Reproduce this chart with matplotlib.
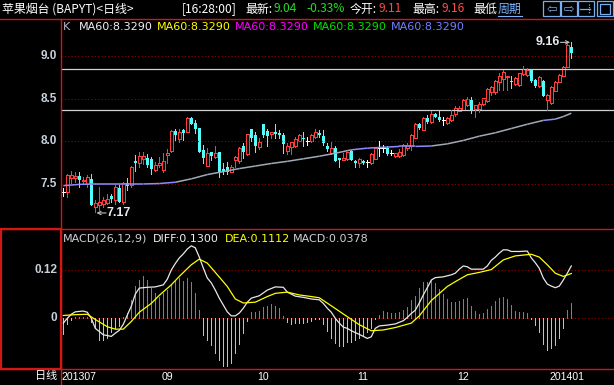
import matplotlib
matplotlib.use("Agg")
from matplotlib import pyplot as plt
from matplotlib.collections import LineCollection
from matplotlib.patches import Rectangle
from matplotlib.lines import Line2D

# ---- daily candles (open, high, low, close) ----
opens = [7.41, 7.40, 7.566, 7.566, 7.594, 7.53, 7.50, 7.559, 7.234, 7.254,
         7.27, 7.277, 7.359, 7.3125, 7.45, 7.293, 7.516, 7.488, 7.773, 7.742,
         7.79, 7.80, 7.79, 7.664, 7.72, 7.664, 7.84, 7.89, 8.121, 8.027,
         8.13, 8.113, 8.27, 8.215, 8.16, 7.90, 7.715, 7.87, 7.82, 7.87,
         7.68, 7.70, 7.645, 7.78, 7.766, 7.94, 7.85, 8.145, 8.074, 7.93,
         8.203, 8.125, 8.09, 8.11, 8.098, 8.07, 7.89, 7.93, 7.95, 8.00,
         8.04, 8.004, 8.00, 8.05, 8.10, 8.066, 7.95, 7.867, 7.926, 7.80,
         7.78, 7.79, 7.89, 7.77, 7.75, 7.77, 7.76, 7.74, 7.79, 7.926,
         7.926, 7.926, 7.86, 7.83, 7.83, 7.84, 7.926, 7.94, 8.043, 8.20,
         8.133, 8.27, 8.23, 8.316, 8.28, 8.25, 8.21, 8.25, 8.316, 8.355,
         8.37, 8.43, 8.49, 8.38, 8.38, 8.434, 8.473, 8.58, 8.582, 8.70,
         8.727, 8.75, 8.71, 8.67, 8.66, 8.79, 8.78, 8.844, 8.72, 8.65,
         8.707, 8.484, 8.445, 8.594, 8.70, 8.766, 8.875, 9.11]
highs = [7.45, 7.62, 7.652, 7.645, 7.637, 7.58, 7.605, 7.617, 7.313, 7.465,
         7.35, 7.38, 7.38, 7.488, 7.49, 7.527, 7.566, 7.71, 7.84, 7.871,
         7.88, 7.85, 7.82, 7.76, 7.82, 7.86, 7.91, 8.13, 8.15, 8.15,
         8.14, 8.29, 8.29, 8.25, 8.16, 7.96, 7.92, 7.88, 7.94, 7.88,
         7.74, 7.76, 7.72, 7.83, 7.93, 7.98, 8.09, 8.145, 8.11, 8.035,
         8.203, 8.15, 8.11, 8.20, 8.13, 8.10, 7.98, 7.99, 8.05, 8.08,
         8.11, 8.05, 8.08, 8.15, 8.13, 8.13, 7.98, 7.99, 7.945, 7.80,
         7.86, 7.875, 7.90, 7.78, 7.81, 7.78, 7.78, 7.867, 7.93, 8.008,
         7.96, 7.945, 7.90, 7.867, 7.91, 7.97, 7.98, 8.086, 8.21, 8.22,
         8.29, 8.31, 8.355, 8.336, 8.35, 8.29, 8.29, 8.37, 8.41, 8.41,
         8.496, 8.516, 8.52, 8.426, 8.465, 8.51, 8.62, 8.65, 8.72, 8.80,
         8.836, 8.77, 8.77, 8.75, 8.80, 8.88, 8.86, 8.85, 8.73, 8.76,
         8.72, 8.55, 8.65, 8.71, 8.79, 8.88, 9.14, 9.16]
lows = [7.36, 7.35, 7.508, 7.527, 7.469, 7.50, 7.469, 7.25, 7.17, 7.195,
        7.23, 7.26, 7.29, 7.27, 7.285, 7.27, 7.43, 7.47, 7.656, 7.703,
        7.73, 7.70, 7.62, 7.65, 7.70, 7.64, 7.75, 7.875, 8.016, 7.996,
        8.01, 8.105, 8.20, 8.094, 7.87, 7.74, 7.71, 7.78, 7.81, 7.58,
        7.62, 7.62, 7.64, 7.70, 7.75, 7.80, 7.84, 8.00, 7.875, 7.91,
        8.047, 7.945, 8.04, 8.04, 8.04, 7.86, 7.85, 7.85, 7.93, 8.00,
        7.94, 7.96, 7.99, 8.04, 8.05, 7.96, 7.89, 7.85, 7.765, 7.70,
        7.78, 7.78, 7.78, 7.70, 7.70, 7.73, 7.70, 7.73, 7.79, 7.832,
        7.88, 7.84, 7.84, 7.82, 7.82, 7.83, 7.90, 7.90, 8.04, 8.145,
        8.13, 8.21, 8.22, 8.28, 8.24, 8.19, 8.20, 8.24, 8.30, 8.35,
        8.367, 8.41, 8.336, 8.28, 8.34, 8.426, 8.465, 8.54, 8.56, 8.60,
        8.60, 8.60, 8.63, 8.66, 8.65, 8.78, 8.77, 8.70, 8.64, 8.64,
        8.53, 8.367, 8.44, 8.59, 8.69, 8.76, 8.87, 8.98]
closes = [7.41, 7.605, 7.605, 7.598, 7.547, 7.55, 7.578, 7.254, 7.273, 7.293,
          7.31, 7.32, 7.32, 7.469, 7.293, 7.508, 7.48, 7.703, 7.742, 7.828,
          7.83, 7.723, 7.672, 7.72, 7.75, 7.77, 7.86, 8.121, 8.074, 8.105,
          8.10, 8.27, 8.203, 8.14, 7.879, 7.80, 7.867, 7.83, 7.86, 7.645,
          7.645, 7.645, 7.70, 7.82, 7.926, 7.88, 8.086, 8.043, 7.945, 7.996,
          8.074, 8.066, 8.11, 8.08, 8.07, 7.97, 7.945, 7.99, 8.03, 8.07,
          8.03, 8.004, 8.07, 8.11, 8.07, 7.98, 7.91, 7.926, 7.77, 7.78,
          7.81, 7.875, 7.78, 7.74, 7.79, 7.74, 7.76, 7.85, 7.926, 7.926,
          7.926, 7.85, 7.86, 7.867, 7.875, 7.96, 7.96, 8.07, 8.20, 8.16,
          8.277, 8.23, 8.316, 8.29, 8.25, 8.25, 8.277, 8.31, 8.395, 8.395,
          8.49, 8.496, 8.367, 8.42, 8.434, 8.504, 8.61, 8.64, 8.71, 8.766,
          8.816, 8.77, 8.69, 8.74, 8.797, 8.844, 8.84, 8.707, 8.65, 8.75,
          8.53, 8.54, 8.64, 8.70, 8.777, 8.875, 9.129, 9.04]

# ---- MA60 readings (candle index, value) ----
ma_idx = [0, 4, 8, 12, 16, 20, 24, 28, 32, 36, 40, 44, 48, 52, 56, 60, 64,
          68, 72, 76, 80, 84, 88, 92, 96, 100, 104, 108, 112, 116, 120, 123,
          125, 127]
ma_val = [7.48, 7.495, 7.50, 7.50, 7.50, 7.50, 7.505, 7.52, 7.56, 7.61, 7.645,
          7.68, 7.71, 7.74, 7.765, 7.795, 7.825, 7.86, 7.90, 7.92, 7.93, 7.94,
          7.94, 7.945, 7.97, 8.01, 8.06, 8.10, 8.15, 8.20, 8.245, 8.26, 8.29,
          8.329]

# ---- MACD(26,12,9) ----
diff_idx = [0, 1, 2, 3, 5, 6, 7, 8, 10, 12, 13, 14, 15, 16, 17, 18, 19, 21,
            23, 25, 26, 27, 28, 29, 30, 31, 32, 33, 34, 35, 36, 37, 38, 39,
            40, 41, 42, 43, 44, 45, 46, 47, 49, 51, 53, 55, 56, 58, 60, 62,
            64, 65, 66, 67, 68, 69, 70, 71, 72, 74, 75, 76, 77, 78, 79, 81,
            83, 85, 86, 87, 88, 89, 90, 91, 92, 93, 95, 97, 98, 99, 100, 101,
            102, 104, 105, 106, 107, 108, 109, 110, 111, 112, 114, 116, 117,
            118, 119, 120, 121, 122, 123, 124, 125, 126, 127]
diff_val = [-0.012, 0.0, 0.010, 0.016, 0.018, 0.015, 0.0, -0.025, -0.041,
            -0.045, -0.037, -0.030, -0.015, 0.008, 0.030, 0.060, 0.075, 0.077,
            0.078, 0.083, 0.097, 0.120, 0.136, 0.150, 0.160, 0.172, 0.180,
            0.175, 0.152, 0.125, 0.100, 0.088, 0.070, 0.050, 0.033, 0.016,
            0.006, 0.006, 0.013, 0.025, 0.040, 0.050, 0.056, 0.070, 0.078,
            0.077, 0.065, 0.055, 0.052, 0.048, 0.046, 0.037, 0.025, 0.015,
            0.0, -0.012, -0.022, -0.025, -0.031, -0.040, -0.045, -0.050,
            -0.046, -0.025, -0.019, -0.017, -0.014, -0.006, 0.002, 0.012,
            0.020, 0.038, 0.058, 0.076, 0.095, 0.101, 0.103, 0.108, 0.112,
            0.122, 0.130, 0.128, 0.122, 0.122, 0.122, 0.130, 0.144, 0.152,
            0.162, 0.170, 0.170, 0.166, 0.166, 0.167, 0.150, 0.138, 0.124,
            0.100, 0.085, 0.080, 0.076, 0.080, 0.095, 0.112, 0.130]
dea_idx = [0, 3, 6, 8, 11, 13, 15, 17, 19, 22, 24, 27, 29, 32, 34, 36, 38, 41,
           43, 45, 48, 51, 53, 56, 59, 62, 64, 67, 71, 74, 77, 80, 83, 87, 89,
           92, 96, 98, 101, 104, 107, 110, 113, 117, 119, 121, 123, 125, 127]
dea_val = [0.007, 0.009, 0.010, -0.003, -0.021, -0.027, -0.027, -0.008, 0.015,
           0.037, 0.057, 0.083, 0.104, 0.133, 0.147, 0.137, 0.114, 0.079,
           0.048, 0.038, 0.040, 0.054, 0.062, 0.065, 0.058, 0.054, 0.051,
           0.031, 0.004, -0.016, -0.031, -0.029, -0.023, -0.012, 0.006, 0.044,
           0.079, 0.091, 0.108, 0.114, 0.121, 0.145, 0.155, 0.159, 0.152,
           0.133, 0.112, 0.104, 0.1112]
macd_bar = [-0.040, -0.015, -0.004, 0.002, 0.003, 0.003, 0.004, -0.008, -0.025,
            -0.054, -0.054, -0.050, -0.035, -0.025, -0.018, 0.003, 0.012,
            0.045, 0.079, 0.095, 0.106, 0.095, 0.076, 0.062, 0.054, 0.062,
            0.070, 0.083, 0.094, 0.099, 0.093, 0.101, 0.089, 0.062, 0.021,
            -0.041, -0.054, -0.066, -0.087, -0.104, -0.118, -0.118, -0.112,
            -0.087, -0.065, -0.037, -0.007, 0.015, 0.015, 0.018, 0.029, 0.031,
            0.035, 0.031, 0.026, 0.006, -0.008, -0.015, -0.012, -0.011, -0.012,
            -0.010, -0.007, -0.002, -0.002, -0.015, -0.031, -0.048, -0.062,
            -0.070, -0.068, -0.060, -0.058, -0.054, -0.050, -0.041, -0.035,
            -0.025, -0.002, 0.008, 0.017, 0.015, 0.012, 0.012, 0.015, 0.021,
            0.029, 0.046, 0.056, 0.075, 0.089, 0.091, 0.095, 0.087, 0.073,
            0.060, 0.048, 0.041, 0.041, 0.043, 0.048, 0.051, 0.030, 0.018,
            0.010, 0.012, 0.023, 0.031, 0.043, 0.051, 0.054, 0.048, 0.033,
            0.018, 0.015, 0.015, 0.012, -0.002, -0.017, -0.033, -0.065,
            -0.079, -0.075, -0.066, -0.048, -0.023, 0.021, 0.0378]

month_start = [0, 25, 49, 74, 99, 122]
month_labels = ["201307", "09", "10", "11", "12", "201401"]
price_ticks = [9.0, 8.5, 8.0, 7.5]
level_lines = [8.844, 8.367]
macd_ticks = [0.12, 0]

RED = "#ff3c3c"
CYAN = "#54fcfc"
BAR_RED = "#ff4848"
BAR_CYAN = "#3cf8ff"
BORDER = "#d01818"
GRID = "#9a0000"
LABEL = "#c8d0dc"
CJK = ["Noto Sans CJK SC", "DejaVu Sans"]
PX = 0.72  # one pixel in points

W, H = 614, 385


def fx(px):
    return px / W


def fy(py):
    return 1 - py / H


fig = plt.figure(figsize=(W / 100, H / 100), dpi=100, facecolor="black")

# ---- price panel ----
ax = fig.add_axes([fx(61), fy(228), fx(614) - fx(61), fy(19) - fy(228)])
ax.set_facecolor("black")
ax.set_xlim(-0.575, 137.675)
ax.set_ylim(6.9836, 9.4338)
ax.axis("off")

for p in price_ticks:
    ax.axhline(p, color=GRID, lw=0.8, ls=(0, (1, 2)))
    ax.text(-0.007, p, f"{p:.1f}", transform=ax.get_yaxis_transform(),
            ha="right", va="center", color=LABEL, fontsize=8.5,
            family="Liberation Sans", fontweight="bold")
for p in level_lines:
    ax.axhline(p, color="#d0d0d0", lw=0.9)

for i, (o, h, l, c) in enumerate(zip(opens, highs, lows, closes)):
    if c > o:
        ax.vlines(i, c, h, color=RED, lw=PX, antialiased=False)
        ax.vlines(i, l, o, color=RED, lw=PX, antialiased=False)
        ax.add_patch(Rectangle((i - 0.3, o), 0.6, c - o, fill=False,
                               edgecolor=RED, lw=PX, antialiased=False))
    elif c < o:
        ax.vlines(i, l, h, color=CYAN, lw=PX, antialiased=False)
        ax.add_patch(Rectangle((i - 0.38, c), 0.76, o - c, facecolor=CYAN,
                               edgecolor="none", antialiased=False))
    else:
        ax.vlines(i, l, h, color="white", lw=PX, antialiased=False)
        ax.hlines(c, i - 0.4, i + 0.4, color="white", lw=PX, antialiased=False)

segs, cols = [], []
for k in range(len(ma_idx) - 1):
    segs.append([(ma_idx[k], ma_val[k]), (ma_idx[k + 1], ma_val[k + 1])])
    slope = (ma_val[k + 1] - ma_val[k]) / (ma_idx[k + 1] - ma_idx[k])
    cols.append("#a0a8b8" if slope > 0.0055 else "#8c8cff")
ax.add_collection(LineCollection(segs, colors=cols, linewidths=1.1))

# high / low markers
hi = highs.index(max(highs))
lo = lows.index(min(lows))
ax.annotate("", xy=(hi - 0.3, highs[hi]), xytext=(hi - 2.7, highs[hi]),
            arrowprops=dict(arrowstyle="->", color="#c0c0c0", lw=0.8,
                            mutation_scale=6, shrinkA=0, shrinkB=0))
ax.text(hi - 2.9, highs[hi], f"{highs[hi]:.2f}", ha="right", va="center",
        color="#e6eaf0", fontsize=9, family="Liberation Sans",
        fontweight="bold")
ax.annotate("", xy=(lo + 0.3, lows[lo] - 0.01), xytext=(lo + 2.7, lows[lo] - 0.01),
            arrowprops=dict(arrowstyle="->", color="#c0c0c0", lw=0.8,
                            mutation_scale=6, shrinkA=0, shrinkB=0))
ax.text(lo + 2.9, lows[lo] - 0.01, f"{lows[lo]:.2f}", ha="left", va="center",
        color="#e6eaf0", fontsize=9, family="Liberation Sans",
        fontweight="bold")

# ---- MACD panel ----
ax2 = fig.add_axes([fx(61), fy(369), fx(614) - fx(61), fy(228) - fy(369)])
ax2.set_facecolor("black")
ax2.set_xlim(-0.575, 137.675)
ax2.set_ylim(-0.126, 0.2243)
ax2.axis("off")
for v in macd_ticks:
    ax2.axhline(v, color=GRID, lw=0.8, ls=(0, (1, 2)))
    ax2.text(-0.007, v, f"{v:g}", transform=ax2.get_yaxis_transform(),
             ha="right", va="center", color=LABEL, fontsize=8.5,
             family="Liberation Sans", fontweight="bold")
for i, m in enumerate(macd_bar):
    ax2.vlines(i, 0, m, color=BAR_RED if m > 0 else BAR_CYAN, lw=PX,
               antialiased=False)
ax2.plot(diff_idx, diff_val, color="#e8e8e8", lw=0.9)
ax2.plot(dea_idx, dea_val, color="#ffff00", lw=0.9)

for pos, lab in zip(month_start, month_labels):
    ax2.text(pos - 0.5, -(376.5 - 369) / 141, lab,
             transform=ax2.get_xaxis_transform(), ha="left", va="center",
             color="white", fontsize=7.6, family="Liberation Sans")

# ---- frame lines ----
fig.add_artist(Line2D([0, 1], [fy(18.5), fy(18.5)], color=BORDER, lw=1))
fig.add_artist(Line2D([0, 1], [fy(228.5), fy(228.5)], color=BORDER, lw=1))
fig.add_artist(Line2D([0, 1], [fy(369), fy(369)], color=BORDER, lw=1))
fig.add_artist(Line2D([fx(61), fx(61)], [fy(18.5), 0], color=BORDER, lw=1))
fig.add_artist(Rectangle((fx(1), fy(368.5)), fx(60), fy(229) - fy(368.5),
                         fill=False, edgecolor=BORDER, lw=1.6))


# ---- header ----
def head(px, s, color="white", **kw):
    fig.text(fx(px), fy(9), s, color=color, ha="left", va="center",
             fontsize=8.6, family=CJK, **kw)


head(2, "苹果烟台 (BAPYT)<日线>")
head(182, "[16:28:00]")
head(245, "最新:")
head(273, "9.04", "#20e020")
head(306, "-0.33%", "#20e020")
head(350, "今开:")
head(378, "9.11", "#ff4a4a")
head(412, "最高:")
head(441, "9.16", "#ff4a4a")
head(473, "最低")
head(498, "周期", "#7ab4ff")
fig.add_artist(Line2D([fx(498), fx(522)], [fy(15.5), fy(15.5)],
                      color="#7ab4ff", lw=0.8))

ICON = "#78aef0"
for x0, x1 in [(543, 560), (561, 577), (578, 594), (597, 613)]:
    fig.add_artist(Rectangle((fx(x0), fy(16)), fx(x1 - x0), fy(1.5) - fy(16),
                             fill=False, edgecolor=ICON, lw=0.9))
fig.text(fx(551.5), fy(9), "⇦", color=ICON, ha="center", va="center",
         fontsize=9, family="DejaVu Sans")
fig.text(fx(569), fy(9), "⇨", color=ICON, ha="center", va="center",
         fontsize=9, family="DejaVu Sans")
fig.add_artist(Line2D([fx(580), fx(590)], [fy(9), fy(9)], color=ICON, lw=0.9))
fig.add_artist(Line2D([fx(589), fx(589)], [fy(4), fy(14)], color=ICON, lw=0.9,
                      ls=(0, (1, 1))))
fig.add_artist(Rectangle((fx(600), fy(13.5)), fx(10), fy(4) - fy(13.5),
                         fill=False, edgecolor=ICON, lw=0.9))

# ---- legends ----
fig.text(fx(63), fy(27.5), "K", color="#b8b8c8", ha="left", va="center",
         fontsize=8, family="DejaVu Sans")
for px, col in [(79, "#f0f0f0"), (157, "#ffff00"), (235, "#ff00ff"),
                (313, "#00e000"), (391, "#7080ff")]:
    fig.text(fx(px), fy(27.5), f"MA60:{ma_val[-1]:.4f}", color=col,
             ha="left", va="center", fontsize=8, family="DejaVu Sans")

fig.text(fx(63), fy(238.5), "MACD(26,12,9)", color="#d0d0d8", ha="left",
         va="center", fontsize=8, family="DejaVu Sans")
fig.text(fx(153), fy(238.5), f"DIFF:{diff_val[-1]:.4f}", color="#f0f0f0",
         ha="left", va="center", fontsize=8, family="DejaVu Sans")
fig.text(fx(225), fy(238.5), f"DEA:{dea_val[-1]:.4f}", color="#ffff00",
         ha="left", va="center", fontsize=8, family="DejaVu Sans")
fig.text(fx(293), fy(238.5), f"MACD:{macd_bar[-1]:.4f}", color="#d0d0d8",
         ha="left", va="center", fontsize=8, family="DejaVu Sans")
fig.text(fx(35), fy(376.5), "日线", color="white", ha="left", va="center",
         fontsize=8, family=CJK)

fig.savefig("out.png", dpi=100, facecolor="black")
